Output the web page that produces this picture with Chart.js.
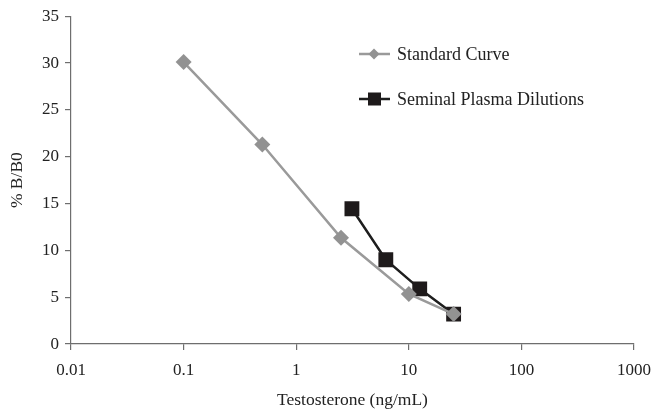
<!DOCTYPE html>
<html>
<head>
<meta charset="utf-8">
<script src="https://cdn.jsdelivr.net/npm/chart.js@4"></script>
<style>
  body { margin: 0; background: #fff; }
  #wrap { width: 654px; height: 409px; }
</style>
</head>
<body>
<div id="wrap"><canvas id="myChart"></canvas></div>
<script>
var stdDose = [0.1, 0.5, 2.5, 10, 25];
var stdBB0 = [30.1, 21.3, 11.35, 5.35, 3.2];
var semDose = [3.125, 6.25, 12.5, 25];
var semBB0 = [14.45, 9.0, 5.9, 3.2];
var xTicks = [0.01, 0.1, 1, 10, 100, 1000];
var seriesNames = ['Standard Curve', 'Seminal Plasma Dilutions'];

var serif = "'Liberation Serif', 'DejaVu Serif', serif";
var axisColor = '#6e6e6e';

function pairs(xs, ys) {
    return xs.map(function (x, i) { return { x: x, y: ys[i] }; });
}

// legend drawn by hand so it sits inside the plot like the original
var sideLegend = {
    id: 'sideLegend',
    afterDraw: function (chart) {
        var ctx = chart.ctx;
        var rows = [54, 99];
        chart.data.datasets.forEach(function (ds, i) {
            var y = rows[i];
            ctx.save();
            ctx.strokeStyle = ds.borderColor;
            ctx.lineWidth = ds.borderWidth;
            ctx.beginPath();
            ctx.moveTo(359, y);
            ctx.lineTo(390, y);
            ctx.stroke();
            ctx.fillStyle = ds.pointBackgroundColor;
            if (ds.pointStyle === 'rectRot') {
                ctx.beginPath();
                ctx.moveTo(374, y - 5.5);
                ctx.lineTo(379.5, y);
                ctx.lineTo(374, y + 5.5);
                ctx.lineTo(368.5, y);
                ctx.closePath();
                ctx.fill();
            } else {
                ctx.fillRect(368, y - 6.5, 13, 13);
            }
            ctx.fillStyle = '#222';
            ctx.font = '18px ' + serif;
            ctx.textBaseline = 'middle';
            ctx.fillText(seriesNames[i], 397, y + 1);
            ctx.restore();
        });
    }
};

var config = {
    type: 'line',
    data: {
        datasets: [{
            label: seriesNames[0],
            data: pairs(stdDose, stdBB0),
            borderColor: '#9a9a9a',
            borderWidth: 2.5,
            pointStyle: 'rectRot',
            pointRadius: 8,
            pointBackgroundColor: '#929292',
            pointBorderColor: '#929292',
            pointBorderWidth: 0,
            tension: 0
        }, {
            label: seriesNames[1],
            data: pairs(semDose, semBB0),
            borderColor: '#1e1e1e',
            borderWidth: 2.5,
            pointStyle: 'rect',
            pointRadius: 10.5,
            pointBackgroundColor: '#1e1a1b',
            pointBorderColor: '#1e1a1b',
            pointBorderWidth: 0,
            tension: 0
        }]
    },
    options: {
        responsive: true,
        maintainAspectRatio: false,
        animation: false,
        layout: { padding: { top: 8, right: 0, left: 7, bottom: 0 } },
        plugins: {
            legend: { display: false },
            tooltip: { enabled: false }
        },
        scales: {
            x: {
                type: 'logarithmic',
                min: 0.01,
                max: 1000,
                afterBuildTicks: function (axis) {
                    axis.ticks = xTicks.map(function (v) { return { value: v }; });
                },
                afterFit: function (axis) {
                    axis.paddingRight = 20;
                },
                ticks: {
                    color: '#222',
                    font: { family: serif, size: 17 },
                    padding: 10,
                    maxRotation: 0,
                    autoSkip: false,
                    callback: function (v) { return String(v); }
                },
                grid: { drawOnChartArea: false, drawTicks: true, tickLength: 6, color: axisColor, lineWidth: 1.2 },
                border: { color: axisColor, width: 1.2 },
                title: {
                    display: true,
                    text: 'Testosterone (ng/mL)',
                    color: '#222',
                    font: { family: serif, size: 17.5, lineHeight: 1 },
                    padding: { top: 1, bottom: 0 }
                }
            },
            y: {
                min: 0,
                max: 35,
                ticks: {
                    stepSize: 5,
                    color: '#222',
                    font: { family: serif, size: 17 },
                    padding: 6
                },
                grid: { drawOnChartArea: false, drawTicks: true, tickLength: 6, color: axisColor, lineWidth: 1.2 },
                border: { color: axisColor, width: 1.2 },
                title: {
                    display: true,
                    text: '% B/B0',
                    color: '#222',
                    font: { family: serif, size: 17.5 },
                    padding: { top: 0, bottom: 8 }
                }
            }
        }
    },
    plugins: [sideLegend]
};

var ctx = document.getElementById('myChart').getContext('2d');
window.myChart = new Chart(ctx, config);
</script>
</body>
</html>
